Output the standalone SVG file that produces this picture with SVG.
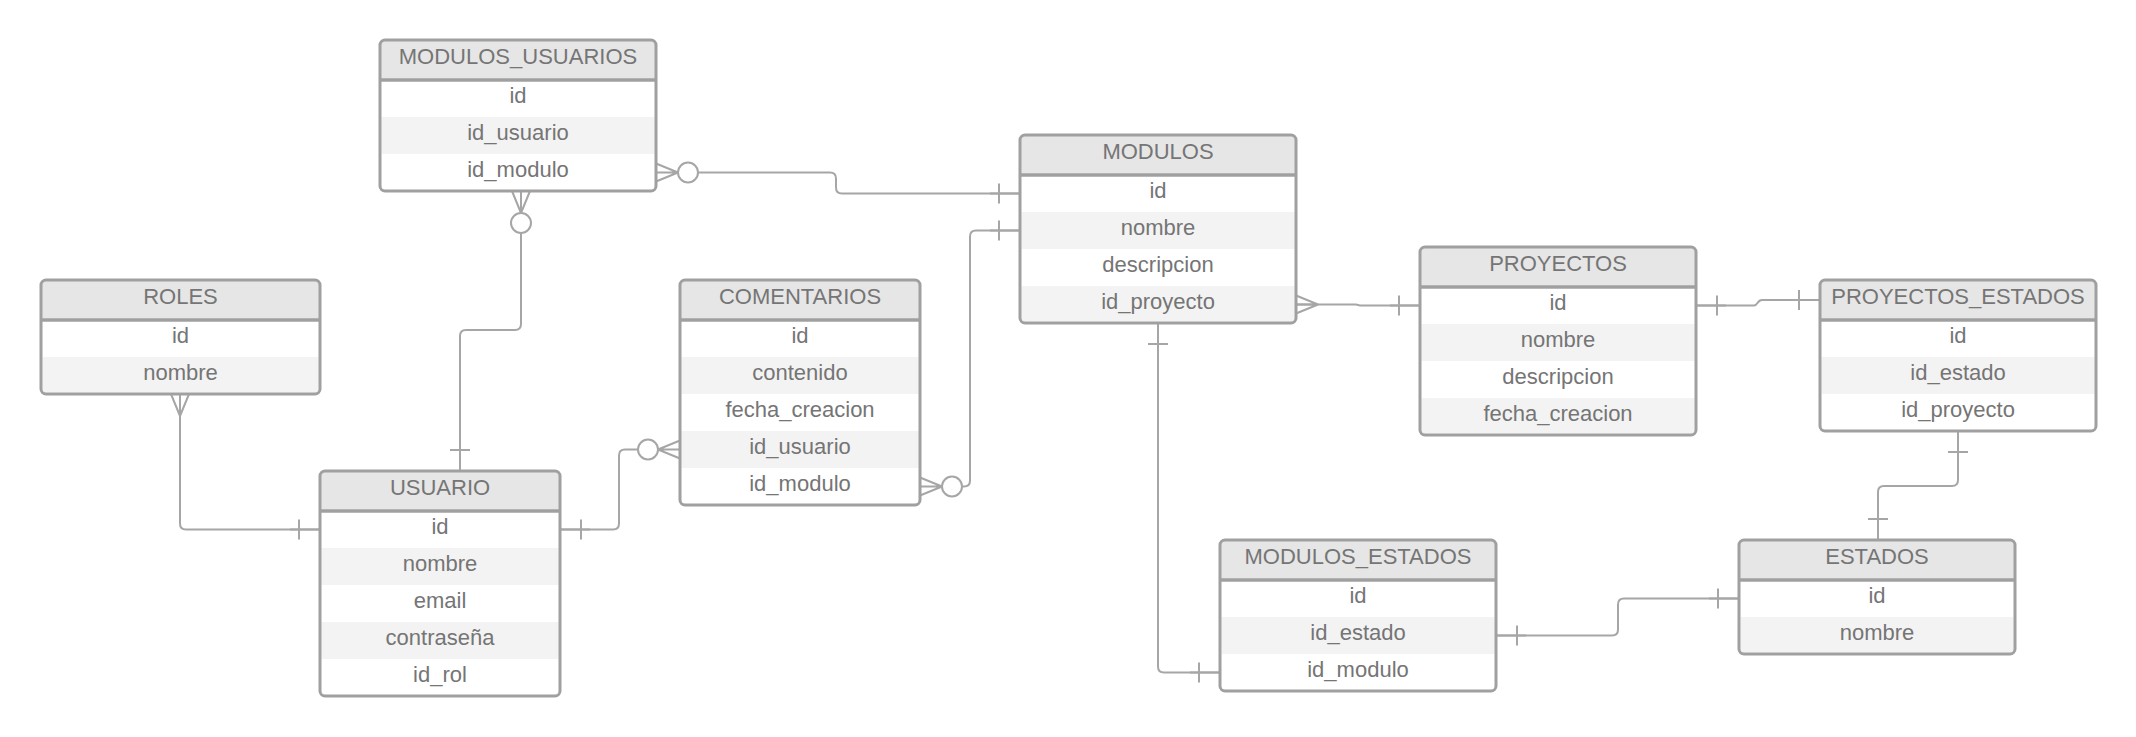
<svg xmlns="http://www.w3.org/2000/svg" xmlns:xlink="http://www.w3.org/1999/xlink" width="2136" height="737" viewBox="0 0 2136 737">
<style>
.bg{fill:#ffffff}
.hdr{fill:#e6e6e6}
.alt{fill:#f3f3f3}
.box{fill:none;stroke:#a0a0a0;stroke-width:3}
.sep{stroke:#a0a0a0;stroke-width:3.5}
text{font-family:"Liberation Sans",Arial,sans-serif;font-size:22px;fill:#757575;text-anchor:middle}
.conn path,.conn line{fill:none;stroke:#a6a6a6;stroke-width:2}
.end path,.end line{fill:none;stroke:#a6a6a6;stroke-width:2}
.end circle{fill:#ffffff;stroke:#a6a6a6;stroke-width:2}
</style>
<defs>
<g id="crow" class="end"><path d="M0,-9 L22,0 M0,0 L22,0 M0,9 L22,0"/></g>
<g id="crowO" class="end"><path d="M0,-9 L22,0 M0,0 L22,0 M0,9 L22,0"/><circle cx="32" cy="0" r="10"/></g>
<g id="bar" class="end"><path d="M0,0 H30 M21,-10 V10"/></g>
</defs>
<rect width="2136" height="737" fill="#ffffff"/>

<g id="connectors" class="conn">
<path d="M698,172.5 H830 Q836,172.5 836,178.5 V187.5 Q836,193.5 842,193.5 H1020"/>
<path d="M962,486.5 H964 Q970,486.5 970,480.5 V236.5 Q970,230.5 976,230.5 H1020"/>
<path d="M521,233 V324 Q521,330 515,330 H466 Q460,330 460,336 V471"/>
<path d="M180,394 V523.5 Q180,529.5 186,529.5 H320"/>
<path d="M560,529.5 H613 Q619,529.5 619,523.5 V455.5 Q619,449.5 625,449.5 H638"/>
<path d="M1296,304.5 H1356 L1360,305.5 H1420"/>
<path d="M1158,323 V666.5 Q1158,672.5 1164,672.5 H1220"/>
<path d="M1496,635.5 H1612 Q1618,635.5 1618,629.5 V604.5 Q1618,598.5 1624,598.5 H1739"/>
<path d="M1696,305.5 H1754 C1758,305.5 1757,300 1762,300 H1820"/>
<path d="M1958,431 V480 Q1958,486 1952,486 H1884 Q1878,486 1878,492 V540"/>
<use xlink:href="#crowO" href="#crowO" transform="translate(656,172.5)"/>
<use xlink:href="#bar" href="#bar" transform="translate(1020,193.5) rotate(180)"/>
<use xlink:href="#crowO" href="#crowO" transform="translate(920,486.5)"/>
<use xlink:href="#bar" href="#bar" transform="translate(1020,230.5) rotate(180)"/>
<use xlink:href="#crowO" href="#crowO" transform="translate(521,191) rotate(90)"/>
<use xlink:href="#bar" href="#bar" transform="translate(460,471) rotate(-90)"/>
<use xlink:href="#crow" href="#crow" transform="translate(180,394) rotate(90)"/>
<use xlink:href="#bar" href="#bar" transform="translate(320,529.5) rotate(180)"/>
<use xlink:href="#bar" href="#bar" transform="translate(560,529.5)"/>
<use xlink:href="#crowO" href="#crowO" transform="translate(680,449.5) rotate(180)"/>
<use xlink:href="#crow" href="#crow" transform="translate(1296,304.5)"/>
<use xlink:href="#bar" href="#bar" transform="translate(1420,305.5) rotate(180)"/>
<use xlink:href="#bar" href="#bar" transform="translate(1158,323) rotate(90)"/>
<use xlink:href="#bar" href="#bar" transform="translate(1220,672.5) rotate(180)"/>
<use xlink:href="#bar" href="#bar" transform="translate(1496,635.5)"/>
<use xlink:href="#bar" href="#bar" transform="translate(1739,598.5) rotate(180)"/>
<use xlink:href="#bar" href="#bar" transform="translate(1696,305.5)"/>
<use xlink:href="#bar" href="#bar" transform="translate(1820,300) rotate(180)"/>
<use xlink:href="#bar" href="#bar" transform="translate(1958,431) rotate(90)"/>
<use xlink:href="#bar" href="#bar" transform="translate(1878,540) rotate(-90)"/>
</g>

<g id="modulos_usuarios">
<rect class="bg" x="380" y="40" width="276" height="151" rx="5"/>
<path class="hdr" d="M380,80 V45 Q380,40 385,40 H651 Q656,40 656,45 V80 Z"/>
<rect class="alt" x="381.5" y="117" width="273" height="37"/>
<line class="sep" x1="380" y1="80" x2="656" y2="80"/>
<rect class="box" x="380" y="40" width="276" height="151" rx="5"/>
<text x="518" y="64">MODULOS_USUARIOS</text>
<text x="518" y="103">id</text>
<text x="518" y="140">id_usuario</text>
<text x="518" y="177">id_modulo</text>
</g>

<g id="roles">
<rect class="bg" x="41" y="280" width="279" height="114" rx="5"/>
<path class="hdr" d="M41,320 V285 Q41,280 46,280 H315 Q320,280 320,285 V320 Z"/>
<rect class="alt" x="42.5" y="357" width="276" height="35.5"/>
<line class="sep" x1="41" y1="320" x2="320" y2="320"/>
<rect class="box" x="41" y="280" width="279" height="114" rx="5"/>
<text x="180.5" y="304">ROLES</text>
<text x="180.5" y="343">id</text>
<text x="180.5" y="380">nombre</text>
</g>

<g id="usuario">
<rect class="bg" x="320" y="471" width="240" height="225" rx="5"/>
<path class="hdr" d="M320,511 V476 Q320,471 325,471 H555 Q560,471 560,476 V511 Z"/>
<rect class="alt" x="321.5" y="548" width="237" height="37"/>
<rect class="alt" x="321.5" y="622" width="237" height="37"/>
<line class="sep" x1="320" y1="511" x2="560" y2="511"/>
<rect class="box" x="320" y="471" width="240" height="225" rx="5"/>
<text x="440" y="495">USUARIO</text>
<text x="440" y="534">id</text>
<text x="440" y="571">nombre</text>
<text x="440" y="608">email</text>
<text x="440" y="645">contraseña</text>
<text x="440" y="682">id_rol</text>
</g>

<g id="comentarios">
<rect class="bg" x="680" y="280" width="240" height="225" rx="5"/>
<path class="hdr" d="M680,320 V285 Q680,280 685,280 H915 Q920,280 920,285 V320 Z"/>
<rect class="alt" x="681.5" y="357" width="237" height="37"/>
<rect class="alt" x="681.5" y="431" width="237" height="37"/>
<line class="sep" x1="680" y1="320" x2="920" y2="320"/>
<rect class="box" x="680" y="280" width="240" height="225" rx="5"/>
<text x="800" y="304">COMENTARIOS</text>
<text x="800" y="343">id</text>
<text x="800" y="380">contenido</text>
<text x="800" y="417">fecha_creacion</text>
<text x="800" y="454">id_usuario</text>
<text x="800" y="491">id_modulo</text>
</g>

<g id="modulos">
<rect class="bg" x="1020" y="135" width="276" height="188" rx="5"/>
<path class="hdr" d="M1020,175 V140 Q1020,135 1025,135 H1291 Q1296,135 1296,140 V175 Z"/>
<rect class="alt" x="1021.5" y="212" width="273" height="37"/>
<rect class="alt" x="1021.5" y="286" width="273" height="35.5"/>
<line class="sep" x1="1020" y1="175" x2="1296" y2="175"/>
<rect class="box" x="1020" y="135" width="276" height="188" rx="5"/>
<text x="1158" y="159">MODULOS</text>
<text x="1158" y="198">id</text>
<text x="1158" y="235">nombre</text>
<text x="1158" y="272">descripcion</text>
<text x="1158" y="309">id_proyecto</text>
</g>

<g id="proyectos">
<rect class="bg" x="1420" y="247" width="276" height="188" rx="5"/>
<path class="hdr" d="M1420,287 V252 Q1420,247 1425,247 H1691 Q1696,247 1696,252 V287 Z"/>
<rect class="alt" x="1421.5" y="324" width="273" height="37"/>
<rect class="alt" x="1421.5" y="398" width="273" height="35.5"/>
<line class="sep" x1="1420" y1="287" x2="1696" y2="287"/>
<rect class="box" x="1420" y="247" width="276" height="188" rx="5"/>
<text x="1558" y="271">PROYECTOS</text>
<text x="1558" y="310">id</text>
<text x="1558" y="347">nombre</text>
<text x="1558" y="384">descripcion</text>
<text x="1558" y="421">fecha_creacion</text>
</g>

<g id="proyectos_estados">
<rect class="bg" x="1820" y="280" width="276" height="151" rx="5"/>
<path class="hdr" d="M1820,320 V285 Q1820,280 1825,280 H2091 Q2096,280 2096,285 V320 Z"/>
<rect class="alt" x="1821.5" y="357" width="273" height="37"/>
<line class="sep" x1="1820" y1="320" x2="2096" y2="320"/>
<rect class="box" x="1820" y="280" width="276" height="151" rx="5"/>
<text x="1958" y="304">PROYECTOS_ESTADOS</text>
<text x="1958" y="343">id</text>
<text x="1958" y="380">id_estado</text>
<text x="1958" y="417">id_proyecto</text>
</g>

<g id="modulos_estados">
<rect class="bg" x="1220" y="540" width="276" height="151" rx="5"/>
<path class="hdr" d="M1220,580 V545 Q1220,540 1225,540 H1491 Q1496,540 1496,545 V580 Z"/>
<rect class="alt" x="1221.5" y="617" width="273" height="37"/>
<line class="sep" x1="1220" y1="580" x2="1496" y2="580"/>
<rect class="box" x="1220" y="540" width="276" height="151" rx="5"/>
<text x="1358" y="564">MODULOS_ESTADOS</text>
<text x="1358" y="603">id</text>
<text x="1358" y="640">id_estado</text>
<text x="1358" y="677">id_modulo</text>
</g>

<g id="estados">
<rect class="bg" x="1739" y="540" width="276" height="114" rx="5"/>
<path class="hdr" d="M1739,580 V545 Q1739,540 1744,540 H2010 Q2015,540 2015,545 V580 Z"/>
<rect class="alt" x="1740.5" y="617" width="273" height="35.5"/>
<line class="sep" x1="1739" y1="580" x2="2015" y2="580"/>
<rect class="box" x="1739" y="540" width="276" height="114" rx="5"/>
<text x="1877" y="564">ESTADOS</text>
<text x="1877" y="603">id</text>
<text x="1877" y="640">nombre</text>
</g>
</svg>
